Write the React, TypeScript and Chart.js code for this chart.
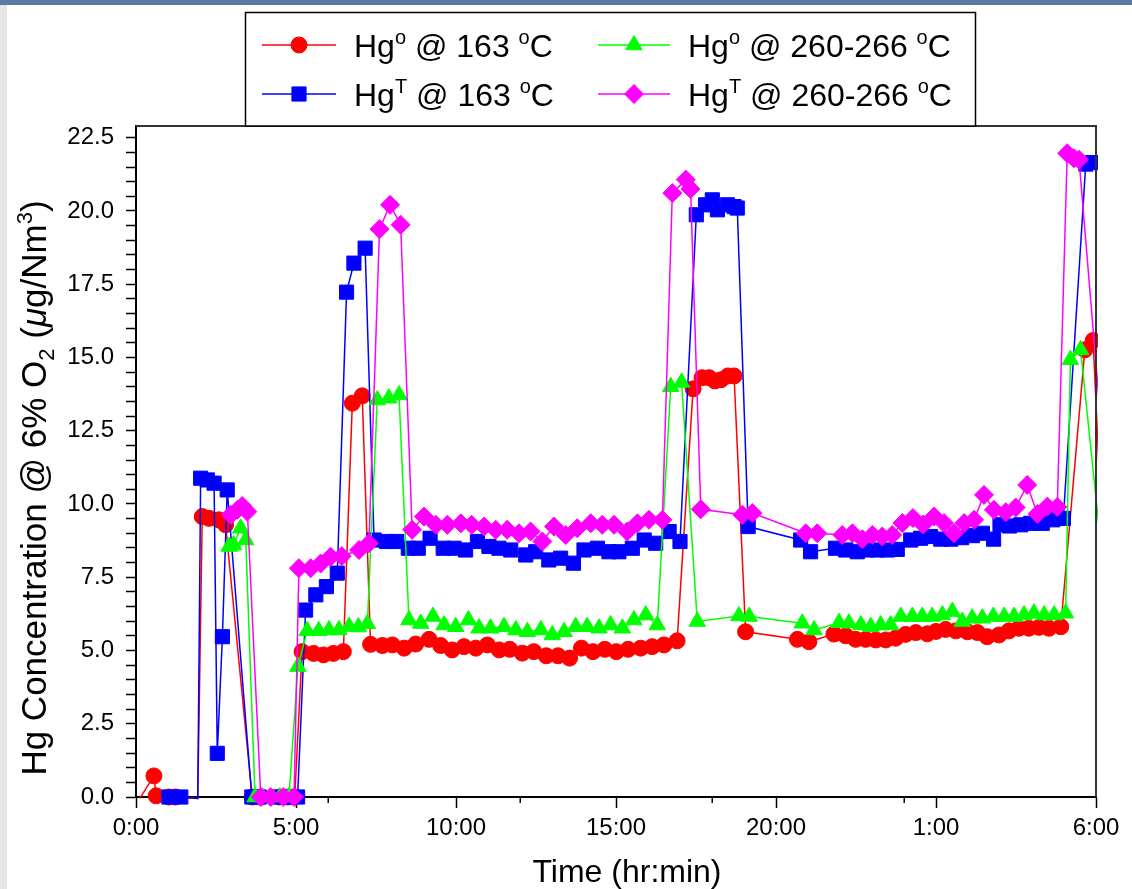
import React, { useEffect, useRef } from "react";
import { Chart, registerables } from "chart.js";

Chart.register(...registerables);

// ---------------- DATA ----------------
// x = elapsed hours from 0:00 (25 = 1:00 next day, 30 = 6:00 next day)
// negative values are points just below the axis (line only, no marker)
const redHours = [0.12, 0.56, 0.63, 1.03, 1.24, 1.93, 2.07, 2.28, 2.59, 2.8, 3.63, 3.9, 4.47, 4.75, 4.96, 5.19, 5.55, 5.86, 6.17, 6.48, 6.76, 7.07, 7.33, 7.7, 8.01, 8.38, 8.74, 9.16, 9.52, 9.88, 10.25, 10.62, 10.98, 11.35, 11.68, 12.07, 12.43, 12.82, 13.19, 13.55, 13.92, 14.28, 14.65, 15.01, 15.38, 15.77, 16.13, 16.5, 16.91, 17.41, 17.69, 17.91, 18.09, 18.28, 18.5, 18.69, 19.05, 20.67, 21.03, 21.81, 22.18, 22.49, 22.8, 23.12, 23.43, 23.74, 24.05, 24.37, 24.73, 25.0, 25.3, 25.62, 25.98, 26.3, 26.6, 26.97, 27.28, 27.59, 27.9, 28.22, 28.53, 28.9, 29.65, 29.91, 30.32];
const redValues = [-0.05, 0.72, 0.04, 0, 0, -0.05, 9.57, 9.51, 9.46, 9.29, 0, 0, 0, 0, 0, 4.96, 4.9, 4.85, 4.9, 4.96, 13.44, 13.69, 5.21, 5.17, 5.19, 5.08, 5.22, 5.38, 5.17, 5.02, 5.13, 5.08, 5.19, 5.02, 5.04, 4.91, 4.96, 4.82, 4.82, 4.74, 5.08, 4.96, 5.04, 4.96, 5.04, 5.08, 5.13, 5.19, 5.33, 13.93, 14.31, 14.31, 14.2, 14.24, 14.37, 14.37, 5.64, 5.38, 5.3, 5.56, 5.5, 5.38, 5.38, 5.36, 5.36, 5.42, 5.55, 5.61, 5.57, 5.65, 5.72, 5.67, 5.64, 5.61, 5.47, 5.53, 5.67, 5.76, 5.76, 5.79, 5.76, 5.81, 15.26, 15.58, 5.9];

const blueHours = [1.03, 1.4, 1.93, 2.02, 2.23, 2.44, 2.54, 2.7, 2.85, 3.62, 3.85, 4.5, 4.7, 5.05, 5.3, 5.62, 5.95, 6.29, 6.58, 6.81, 7.16, 7.44, 7.83, 8.15, 8.51, 8.82, 9.19, 9.6, 9.94, 10.3, 10.67, 11.03, 11.34, 11.71, 12.18, 12.49, 12.9, 13.27, 13.67, 14.0, 14.42, 14.78, 15.09, 15.51, 15.88, 16.24, 16.66, 17.0, 17.51, 17.8, 18.01, 18.17, 18.48, 18.69, 18.79, 19.13, 20.77, 21.08, 21.86, 22.18, 22.54, 22.85, 23.17, 23.48, 23.79, 24.21, 24.52, 24.83, 25.15, 25.46, 25.8, 26.14, 26.45, 26.8, 27.0, 27.3, 27.65, 27.96, 28.32, 28.65, 28.98, 29.68, 29.9];
const blueValues = [0, 0, -0.05, 10.88, 10.82, 10.71, 1.49, 5.47, 10.48, 0, 0, 0, 0, 0, 6.38, 6.9, 7.18, 7.64, 17.23, 18.22, 18.73, 8.77, 8.72, 8.72, 8.49, 8.49, 8.83, 8.49, 8.49, 8.43, 8.72, 8.55, 8.49, 8.43, 8.26, 8.37, 8.09, 8.15, 7.98, 8.43, 8.49, 8.37, 8.37, 8.49, 8.77, 8.66, 9.06, 8.72, 19.87, 20.21, 20.38, 20.04, 20.21, 20.15, 20.1, 9.23, 8.77, 8.37, 8.49, 8.43, 8.37, 8.43, 8.43, 8.43, 8.45, 8.77, 8.83, 8.89, 8.8, 8.8, 8.85, 8.92, 9.0, 8.8, 9.29, 9.25, 9.29, 9.34, 9.34, 9.46, 9.51, 21.6, 21.65];

const greenHours = [2.91, 3.05, 3.27, 3.43, 3.72, 3.95, 4.5, 4.78, 5.06, 5.35, 5.71, 6.03, 6.34, 6.66, 6.95, 7.23, 7.54, 7.9, 8.22, 8.53, 8.9, 9.28, 9.63, 9.99, 10.39, 10.72, 11.08, 11.5, 11.87, 12.23, 12.65, 13.01, 13.38, 13.74, 14.1, 14.47, 14.83, 15.2, 15.56, 15.93, 16.29, 16.71, 17.05, 17.54, 18.84, 19.16, 20.82, 21.19, 21.97, 22.28, 22.65, 22.96, 23.27, 23.58, 23.9, 24.26, 24.57, 24.88, 25.2, 25.51, 25.82, 26.13, 26.45, 26.79, 27.13, 27.44, 27.75, 28.06, 28.38, 28.69, 29.05, 29.2, 29.52, 30.4];
const greenValues = [8.55, 8.6, 9.17, 8.77, 0, 0, 0, 0, 4.45, 5.67, 5.67, 5.7, 5.7, 5.82, 5.8, 5.91, 13.55, 13.61, 13.72, 6.04, 5.92, 6.16, 5.87, 5.81, 6.04, 5.76, 5.76, 5.81, 5.7, 5.64, 5.7, 5.53, 5.64, 5.81, 5.81, 5.76, 5.87, 5.76, 6.04, 6.21, 5.87, 14.0, 14.15, 5.99, 6.18, 6.16, 5.93, 5.7, 5.95, 5.93, 5.87, 5.81, 5.87, 5.87, 6.16, 6.16, 6.16, 6.16, 6.21, 6.33, 5.99, 6.1, 6.1, 6.16, 6.16, 6.16, 6.21, 6.27, 6.21, 6.21, 6.27, 14.92, 15.26, 6.0];

const magentaHours = [2.96, 3.17, 3.32, 3.48, 3.9, 4.21, 4.6, 4.94, 5.09, 5.46, 5.77, 6.08, 6.43, 6.97, 7.28, 7.61, 7.94, 8.27, 8.63, 9.0, 9.37, 9.73, 10.15, 10.49, 10.88, 11.24, 11.6, 11.97, 12.33, 12.7, 13.06, 13.43, 13.79, 14.21, 14.57, 14.94, 15.35, 15.67, 16.03, 16.45, 16.76, 17.18, 17.33, 17.65, 18.95, 19.26, 20.93, 21.29, 22.07, 22.39, 22.7, 23.01, 23.32, 23.63, 23.95, 24.28, 24.6, 24.94, 25.25, 25.56, 25.88, 26.19, 26.5, 26.81, 27.18, 27.49, 27.85, 28.17, 28.48, 28.79, 29.1, 29.31, 29.47, 30.4];
const magentaValues = [9.63, 9.8, 9.93, 9.74, 0, 0, 0, 0, 7.81, 7.81, 7.97, 8.2, 8.22, 8.43, 8.66, 19.38, 20.21, 19.53, 9.12, 9.57, 9.29, 9.29, 9.34, 9.29, 9.23, 9.12, 9.12, 9.0, 9.06, 8.72, 9.23, 8.94, 9.17, 9.34, 9.29, 9.29, 9.06, 9.34, 9.46, 9.46, 20.61, 21.07, 20.75, 9.82, 9.63, 9.69, 9.0, 9.0, 8.94, 9.0, 8.8, 8.94, 8.89, 8.94, 9.35, 9.52, 9.3, 9.57, 9.35, 9.0, 9.35, 9.46, 10.31, 9.8, 9.72, 9.88, 10.65, 9.66, 9.91, 9.9, 21.97, 21.8, 21.75, 9.5];

const xMajorTicks = [0, 5, 10, 15, 20, 25, 30];
const xMajorLabels = ["0:00", "5:00", "10:00", "15:00", "20:00", "1:00", "6:00"];
const xMinorTicks = [6, 12, 18, 24];
const yMin = 0;
const yMax = 22.9;
const yMinorStep = 0.5;
const yLabelStep = 2.5;
const yLabelMax = 22.5;

const xTitle = "Time (hr:min)";
type Seg = { t: string; k?: "sup" | "sub" | "it" };
const yTitle: Seg[] = [
  { t: "Hg Concentration @ 6% O" },
  { t: "2", k: "sub" },
  { t: " (" },
  { t: "\u03bc", k: "it" },
  { t: "g/Nm" },
  { t: "3", k: "sup" },
  { t: ")" },
];
const legendLabels: Seg[][] = [
  [{ t: "Hg" }, { t: "o", k: "sup" }, { t: " @ 163 " }, { t: "o", k: "sup" }, { t: "C" }],
  [{ t: "Hg" }, { t: "T", k: "sup" }, { t: " @ 163 " }, { t: "o", k: "sup" }, { t: "C" }],
  [{ t: "Hg" }, { t: "o", k: "sup" }, { t: " @ 260-266 " }, { t: "o", k: "sup" }, { t: "C" }],
  [{ t: "Hg" }, { t: "T", k: "sup" }, { t: " @ 260-266 " }, { t: "o", k: "sup" }, { t: "C" }],
];

// ---------------- STYLE ----------------
const FONT = '"Liberation Sans", Arial, sans-serif';
const COLORS = ["#ff0000", "#0000ff", "#00ff00", "#ff00ff"];
const STYLES = ["circle", "rect", "triangle", "rectRot"];
const RADII = [8, 10, 9.5, 9.5];

function drawSegs(ctx: CanvasRenderingContext2D, segs: Seg[], x: number, y: number, size: number, align: "left" | "center") {
  const small = Math.round(size * 0.62);
  const fontFor = (s: Seg) =>
    s.k === "sup" || s.k === "sub" ? `${small}px ${FONT}` : s.k === "it" ? `italic ${size}px ${FONT}` : `${size}px ${FONT}`;
  let total = 0;
  const widths = segs.map((s) => {
    ctx.font = fontFor(s);
    const w = ctx.measureText(s.t).width;
    total += w;
    return w;
  });
  let cx = align === "center" ? x - total / 2 : x;
  ctx.textAlign = "left";
  ctx.textBaseline = "alphabetic";
  ctx.fillStyle = "#000";
  segs.forEach((s, i) => {
    ctx.font = fontFor(s);
    const dy = s.k === "sup" ? -size * 0.4 : s.k === "sub" ? size * 0.22 : 0;
    ctx.fillText(s.t, cx, y + dy);
    cx += widths[i];
  });
}

function drawMarker(ctx: CanvasRenderingContext2D, style: string, x: number, y: number, r: number, color: string) {
  ctx.save();
  ctx.fillStyle = color;
  ctx.strokeStyle = color;
  ctx.lineWidth = 1;
  ctx.beginPath();
  if (style === "circle") {
    ctx.arc(x, y, r, 0, Math.PI * 2);
  } else if (style === "rect") {
    const s = Math.SQRT1_2 * r;
    ctx.rect(x - s, y - s, 2 * s, 2 * s);
  } else if (style === "triangle") {
    let a = 0;
    ctx.moveTo(x + Math.sin(a) * r, y - Math.cos(a) * r);
    a += (2 * Math.PI) / 3;
    ctx.lineTo(x + Math.sin(a) * r, y - Math.cos(a) * r);
    a += (2 * Math.PI) / 3;
    ctx.lineTo(x + Math.sin(a) * r, y - Math.cos(a) * r);
  } else {
    ctx.moveTo(x - r, y);
    ctx.lineTo(x, y - r);
    ctx.lineTo(x + r, y);
    ctx.lineTo(x, y + r);
  }
  ctx.closePath();
  ctx.fill();
  ctx.stroke();
  ctx.restore();
}

const decorPlugin = {
  id: "decor",
  afterDraw(chart: any) {
    const ctx: CanvasRenderingContext2D = chart.ctx;
    const a = chart.chartArea;
    const xs = chart.scales.x;
    ctx.save();
    // top and right frame
    ctx.strokeStyle = "#333";
    ctx.lineWidth = 2;
    ctx.beginPath();
    ctx.moveTo(a.left, a.top);
    ctx.lineTo(a.right, a.top);
    ctx.lineTo(a.right, a.bottom);
    ctx.stroke();

    // minor x ticks (shorter)
    ctx.strokeStyle = "#000";
    ctx.lineWidth = 1.5;
    xMinorTicks.forEach((v) => {
      const px = Math.round(xs.getPixelForValue(v)) + 0.25;
      ctx.beginPath();
      ctx.moveTo(px, a.bottom);
      ctx.lineTo(px, a.bottom + 6);
      ctx.stroke();
    });

    // x title
    drawSegs(ctx, [{ t: xTitle }], (a.left + a.right) / 2 + 11, 882, 32, "center");

    // y title
    ctx.save();
    ctx.translate(46, 488);
    ctx.rotate(-Math.PI / 2);
    drawSegs(ctx, yTitle, 0, 0, 35, "center");
    ctx.restore();

    // legend
    const bx = 245.5, by = 12.5, bw = 730, bh = a.top - 12.5;
    ctx.fillStyle = "#fff";
    ctx.fillRect(bx, by, bw, bh);
    ctx.strokeStyle = "#000";
    ctx.lineWidth = 1.5;
    ctx.strokeRect(bx, by, bw, bh);
    const cols = [{ l0: 262, l1: 336, tx: 354 }, { l0: 598, l1: 670, tx: 688 }];
    const rows = [45, 94];
    [0, 1, 2, 3].forEach((di) => {
      const c = cols[Math.floor(di / 2)];
      const ry = rows[di % 2];
      ctx.strokeStyle = COLORS[di];
      ctx.lineWidth = 1.5;
      ctx.beginPath();
      ctx.moveTo(c.l0, ry);
      ctx.lineTo(c.l1, ry);
      ctx.stroke();
      drawMarker(ctx, STYLES[di], (c.l0 + c.l1) / 2, ry, RADII[di], COLORS[di]);
      drawSegs(ctx, legendLabels[di], c.tx, ry + 11.5, 32, "left");
    });
    ctx.restore();
  },
};

function makeDataset(label: string, hours: number[], values: number[], i: number) {
  return {
    label,
    data: hours.map((h, k) => ({ x: h, y: values[k] })),
    borderColor: COLORS[i],
    backgroundColor: COLORS[i],
    borderWidth: 1.5,
    pointStyle: STYLES[i],
    pointRadius: (c: any) => (c.raw && c.raw.y < 0 ? 0 : RADII[i]),
    pointBorderWidth: 1,
    pointBorderColor: COLORS[i],
    pointBackgroundColor: COLORS[i],
    tension: 0,
    order: 4 - i,
    clip: { left: false, top: false, bottom: false, right: 2 },
  };
}

export default function App() {
  const ref = useRef<HTMLCanvasElement>(null);
  useEffect(() => {
    const tickFont = { family: FONT, size: 24 };
    const chart = new Chart(ref.current as HTMLCanvasElement, {
      type: "line",
      data: {
        datasets: [
          makeDataset("Hgo @ 163 oC", redHours, redValues, 0),
          makeDataset("HgT @ 163 oC", blueHours, blueValues, 1),
          makeDataset("Hgo @ 260-266 oC", greenHours, greenValues, 2),
          makeDataset("HgT @ 260-266 oC", magentaHours, magentaValues, 3),
        ] as any,
      },
      options: {
        responsive: false,
        animation: false,
        layout: { padding: { left: 0, right: 36, top: 126, bottom: 0 } },
        plugins: { legend: { display: false }, tooltip: { enabled: false } },
        scales: {
          x: {
            type: "linear",
            min: 0,
            max: 30,
            afterBuildTicks: (s: any) => {
              s.ticks = [...xMajorTicks, ...xMinorTicks].sort((p, q) => p - q).map((v) => ({ value: v }));
            },
            afterFit: (s: any) => {
              s.height = 92;
            },
            ticks: {
              autoSkip: false,
              maxRotation: 0,
              color: "#000",
              font: tickFont,
              padding: 6,
              callback: (v: any) => {
                const k = xMajorTicks.indexOf(Number(v));
                return k >= 0 ? xMajorLabels[k] : "";
              },
            },
            grid: {
              drawOnChartArea: false,
              drawTicks: true,
              tickLength: 11,
              tickColor: (c: any) => (c.tick && xMinorTicks.indexOf(c.tick.value) >= 0 ? "rgba(0,0,0,0)" : "#000"),
              tickWidth: 1.5,
            },
            border: { display: true, color: "#000", width: 2 },
          },
          y: {
            type: "linear",
            min: yMin,
            max: yMax,
            afterBuildTicks: (s: any) => {
              const t = [];
              for (let v = 0; v <= yLabelMax + 1e-9; v += yMinorStep) t.push({ value: Math.round(v * 10) / 10 });
              s.ticks = t;
            },
            afterFit: (s: any) => {
              s.width = 136;
            },
            ticks: {
              autoSkip: false,
              color: "#000",
              font: tickFont,
              padding: 12,
              callback: (v: any) => {
                const n = Number(v);
                const r = n / yLabelStep;
                return Math.abs(r - Math.round(r)) < 1e-6 ? n.toFixed(1) : "";
              },
            },
            grid: { drawOnChartArea: false, drawTicks: true, tickLength: 10, tickColor: "#000", tickWidth: 1.5 },
            border: { display: true, color: "#000", width: 2 },
          },
        },
      } as any,
      plugins: [decorPlugin],
    });
    return () => chart.destroy();
  }, []);

  return (
    <div style={{ position: "fixed", left: 0, top: 0, width: 1132, height: 889, background: "#fff", overflow: "hidden" }}>
      <canvas ref={ref} width={1132} height={889} style={{ display: "block", width: 1132, height: 889 }} />
      <div style={{ position: "absolute", left: 0, top: 0, width: 1132, height: 5, background: "#5a7aa2" }} />
      <div style={{ position: "absolute", left: 0, top: 5, width: 7, height: 884, background: "#e6e6e6" }} />
    </div>
  );
}
